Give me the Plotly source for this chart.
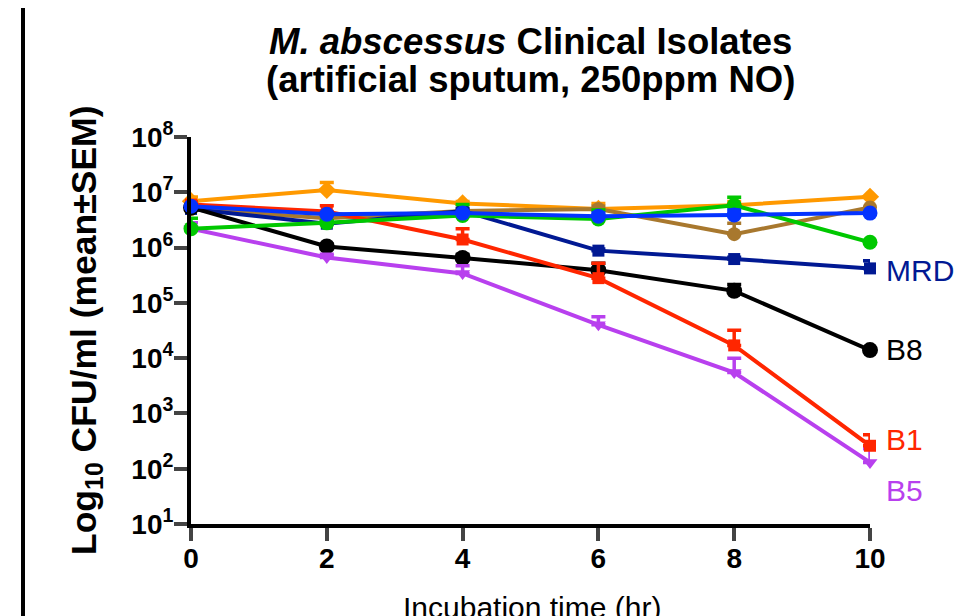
import plotly.graph_objects as go

hours = [0, 2, 4, 6, 8, 10]

orange_mean = [6.9e6, 1.1e7, 6.3e6, 5.0e6, 5.8e6, 8.3e6]
orange_err = [1.3e6, 4.0e6, 0.5e6, 1.3e6, 1.0e6, 0]
brown_mean = [5.0e6, 3.4e6, 4.6e6, 5.0e6, 1.75e6, 5.3e6]
brown_err = [0.2e6, 0.3e6, 0.3e6, 0.6e6, 1.0e6, 0]
navy_mean = [5.0e6, 2.7e6, 4.6e6, 8.8e5, 6.2e5, 4.2e5]
navy_err = [0, 0.3e6, 0.5e6, 0.6e5, 0.5e5, 1.6e5]
black_mean = [5.3e6, 1.05e6, 6.5e5, 3.9e5, 1.65e5, 1.4e4]
black_err = [0.3e6, 0.1e6, 0.1e6, 1.3e5, 0.5e5, 0]
purple_mean = [2.2e6, 6.6e5, 3.4e5, 4.0e4, 5.5e3, 130]
purple_err = [0.6e6, 0.1e6, 1.3e5, 1.6e4, 4.5e3, 100]
red_mean = [6.0e6, 4.5e6, 1.4e6, 2.8e5, 1.7e4, 260]
red_err = [0.8e6, 1.2e6, 0.8e6, 2.4e5, 1.5e4, 150]
green_mean = [2.2e6, 2.8e6, 3.8e6, 3.3e6, 5.8e6, 1.25e6]
green_err = [1.2e6, 0.2e6, 2.2e6, 1.5e6, 2.3e6, 0]
blue_mean = [5.6e6, 4.0e6, 4.2e6, 3.7e6, 3.9e6, 4.2e6]
blue_err = [0.3e6, 0.3e6, 0.3e6, 0.5e6, 0.9e6, 0.2e6]

y_tickvals = [1e1, 1e2, 1e3, 1e4, 1e5, 1e6, 1e7, 1e8]
y_ticktext = ["10<sup>1</sup>", "10<sup>2</sup>", "10<sup>3</sup>", "10<sup>4</sup>",
              "10<sup>5</sup>", "10<sup>6</sup>", "10<sup>7</sup>", "10<sup>8</sup>"]
x_tickvals = [0, 2, 4, 6, 8, 10]

series = [
    ("orange", orange_mean, orange_err, "#FF9900", "diamond", 14),
    ("brown", brown_mean, brown_err, "#A8782E", "circle", 14),
    ("MRD", navy_mean, navy_err, "#011993", "square", 12),
    ("B8", black_mean, black_err, "#000000", "circle", 16),
    ("B5", purple_mean, purple_err, "#B840EE", "triangle-down", 13),
    ("B1", red_mean, red_err, "#FF2600", "square", 12),
    ("green", green_mean, green_err, "#00C800", "circle", 15),
    ("blue", blue_mean, blue_err, "#0433FF", "circle", 15),
]

FONT = "Liberation Sans, Arial, sans-serif"

# page offset: the browser adds an 8px body margin
L, T = 183, 129          # plot-area left/top in figure pixels
PW, PH = 679, 387        # plot-area size
R = 965 - L - PW
B = 616 - T - PH


def px(xpage):
    return (xpage - 8 - L) / PW


def py(ypage):
    return (T + PH - (ypage - 8)) / PH


fig = go.Figure()
for name, mean, err, color, symbol, size in series:
    fig.add_trace(go.Scatter(
        x=hours, y=mean, mode="lines+markers", name=name,
        line=dict(color=color, width=4),
        marker=dict(color=color, symbol=symbol, size=size, line=dict(width=0)),
        error_y=dict(type="data", symmetric=False, array=err,
                     arrayminus=[0] * len(err), color=color, thickness=3.5, width=7),
        cliponaxis=False, showlegend=False,
    ))

fig.update_xaxes(
    range=[0, 10], tickvals=x_tickvals, ticks="outside", ticklen=13, tickwidth=4,
    showline=True, linewidth=4, linecolor="black", showgrid=False, zeroline=False,
    ticklabelstandoff=-7,
    tickfont=dict(family=FONT, size=28, color="black", weight="bold"),
)
fig.update_yaxes(
    type="log", range=[1, 8], tickvals=y_tickvals, ticktext=y_ticktext,
    ticks="outside", ticklen=13, tickwidth=4,
    showline=True, linewidth=4, linecolor="black", showgrid=False, zeroline=False,
    ticklabelstandoff=-5,
    tickfont=dict(family=FONT, size=28, color="black", weight="bold"),
)

annotations = [
    dict(text="<b><i>M. abscessus</i> Clinical Isolates</b>", xref="paper", yref="paper",
         x=0.5, y=py(41), xanchor="center", yanchor="middle", showarrow=False,
         font=dict(family=FONT, size=36.5, color="black")),
    dict(text="<b>(artificial sputum, 250ppm NO)</b>", xref="paper", yref="paper",
         x=0.5, y=py(80), xanchor="center", yanchor="middle", showarrow=False,
         font=dict(family=FONT, size=36.5, color="black")),
    dict(text="<b>Log<sub>10</sub> CFU/ml (mean±SEM)</b>", xref="paper", yref="paper",
         x=px(86), y=py(331), xanchor="center", yanchor="middle",
         textangle=-90, showarrow=False, font=dict(family=FONT, size=35.5, color="black")),
    dict(text="Incubation time (hr)", xref="paper", yref="paper",
         x=px(532), y=py(607), xanchor="center", yanchor="middle",
         showarrow=False, font=dict(family=FONT, size=30, color="black")),
]

labels = [("MRD", 5.59, "#011993"), ("B8", 4.15, "#000000"),
          ("B1", 2.52, "#FF2600"), ("B5", 1.61, "#B840EE")]
for txt, ylog, color in labels:
    annotations.append(dict(text=txt, xref="x", yref="y", x=10, y=ylog, xanchor="left",
                            yanchor="middle", xshift=14, showarrow=False,
                            font=dict(family=FONT, size=30, color=color)))

fig.update_layout(
    width=965, height=616,
    margin=dict(l=L, r=R, t=T, b=B, autoexpand=False),
    paper_bgcolor="white", plot_bgcolor="white",
    annotations=annotations,
    shapes=[dict(type="line", xref="paper", yref="paper",
                 x0=px(23), x1=px(23), y0=py(630), y1=py(0),
                 line=dict(color="black", width=4))],
)

fig.write_html("out.html")
